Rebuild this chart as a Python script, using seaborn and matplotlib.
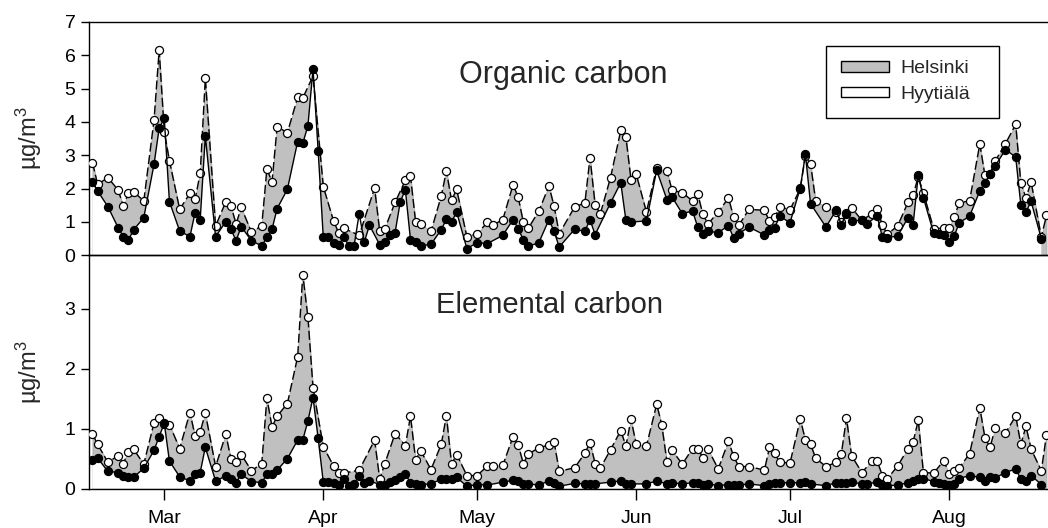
import matplotlib
matplotlib.use("Agg")
import matplotlib.pyplot as plt
import matplotlib.dates as mdates
from matplotlib.patches import Patch
import pandas as pd
import seaborn as sns

START = pd.Timestamp("2006-02-15")

# Organic carbon, Helsinki (day offset from START, µg/m3)
oc_hel_day = [0, 1, 3, 5, 6, 7, 8, 10, 12, 13, 14, 15, 17, 19, 20, 21, 22, 24, 26, 27,
              28, 29, 31, 33, 34, 35, 36, 38, 40, 41, 43, 45, 47, 48, 49, 52, 55, 56, 57, 59,
              61, 62, 63, 64, 66, 68, 69, 70, 71, 73, 75, 77, 78, 80, 82, 83, 84, 85, 87, 89,
              90, 91, 94, 96, 97, 98, 99, 101, 103, 104, 105, 106, 108, 110, 112, 113, 115, 117, 118, 119,
              120, 122, 124, 125, 126, 128, 131, 132, 133, 134, 136, 138, 139, 140, 141, 143, 145, 146, 147, 148,
              150, 152, 153, 154, 155, 157, 159, 160, 161, 162, 164, 166, 167, 168, 169, 171, 173, 174, 175, 176,
              178, 180, 181, 182, 183, 185, 186]
oc_hel_val = [2.78, 2.13, 2.33, 1.96, 1.48, 1.86, 1.91, 1.63, 4.06, 6.16, 3.71, 2.84, 1.38, 1.86, 1.68, 2.46, 5.31, 0.88, 1.61, 1.48,
              0.94, 1.44, 0.69, 0.89, 2.59, 2.20, 3.86, 3.68, 4.74, 4.72, 5.38, 2.06, 1.03, 0.67, 0.81, 0.60, 2.02, 0.72, 0.80, 1.59,
              2.25, 2.37, 1.00, 0.94, 0.72, 1.78, 2.53, 1.65, 1.98, 0.55, 0.65, 0.99, 0.90, 1.07, 2.12, 1.74, 1.00, 0.82, 1.32, 2.08,
              1.47, 0.65, 1.45, 1.57, 2.93, 1.52, 1.24, 2.33, 3.75, 3.55, 2.26, 2.44, 1.30, 2.62, 2.53, 1.95, 1.88, 1.63, 1.85, 1.23,
              0.94, 1.30, 1.72, 1.15, 0.90, 1.38, 1.35, 1.02, 1.15, 1.45, 1.37, 2.00, 2.98, 2.75, 1.63, 1.45, 1.30, 1.00, 1.27, 1.43,
              1.05, 1.25, 1.40, 0.90, 0.63, 0.89, 1.59, 1.82, 2.35, 1.87, 0.80, 0.82, 0.83, 1.15, 1.58, 1.63, 3.34, 2.40, 2.45, 2.83,
              3.35, 3.93, 2.17, 1.72, 2.20, 0.55, 1.20]

# Hyytiälä sampling days (shared by both carbon fractions)
hyy_day = [0, 1, 3, 5, 6, 7, 8, 10, 12, 13, 14, 15, 17, 19, 20, 21, 22, 24, 26, 27,
           28, 29, 31, 33, 34, 35, 36, 38, 40, 41, 42, 43, 44, 45, 46, 47, 48, 49, 50, 51,
           52, 53, 54, 56, 57, 58, 59, 60, 61, 62, 63, 64, 66, 68, 69, 70, 71, 73, 75, 77,
           80, 82, 83, 84, 85, 87, 89, 90, 91, 94, 96, 97, 98, 101, 103, 104, 105, 108, 110, 112,
           113, 115, 117, 118, 119, 120, 122, 124, 125, 126, 128, 131, 132, 133, 134, 136, 138, 139, 140, 143,
           145, 146, 147, 148, 150, 151, 153, 154, 155, 157, 159, 160, 161, 162, 164, 165, 166, 167, 168, 169,
           171, 173, 174, 175, 176, 178, 180, 181, 182, 183, 185]
oc_hyy_val = [2.20, 1.93, 1.46, 0.83, 0.56, 0.46, 0.76, 1.13, 2.73, 3.81, 4.11, 1.61, 0.73, 0.56, 1.28, 1.06, 3.58, 0.56, 1.01, 0.78,
              0.44, 0.86, 0.44, 0.28, 0.54, 0.78, 1.40, 1.98, 3.41, 3.36, 3.88, 5.59, 3.14, 0.54, 0.54, 0.38, 0.30, 0.55, 0.28, 0.28,
              1.25, 0.40, 0.90, 0.32, 0.40, 0.60, 0.68, 1.60, 1.97, 0.47, 0.40, 0.28, 0.33, 0.77, 1.08, 1.00, 1.30, 0.20, 0.38, 0.35,
              0.60, 1.07, 0.80, 0.47, 0.28, 0.37, 1.07, 0.72, 0.25, 0.78, 0.72, 1.07, 0.62, 1.57, 2.18, 1.05, 1.00, 1.03, 2.55, 1.67,
              1.75, 1.25, 1.33, 0.85, 0.65, 0.72, 0.68, 0.89, 0.52, 0.65, 0.85, 0.61, 0.75, 0.83, 1.17, 0.98, 2.02, 3.03, 1.55, 0.85,
              1.35, 0.92, 1.25, 1.03, 1.05, 0.95, 1.18, 0.55, 0.53, 0.58, 1.13, 0.92, 2.40, 1.73, 0.67, 0.65, 0.62, 0.40, 0.57, 0.98,
              1.17, 1.93, 2.17, 2.43, 2.68, 3.17, 2.95, 1.52, 1.30, 1.62, 0.50]

# Elemental carbon, Helsinki
ec_hel_day = [0, 1, 3, 5, 6, 7, 8, 10, 12, 13, 14, 15, 17, 19, 20, 21, 22, 24, 26, 27,
              28, 29, 31, 33, 34, 35, 36, 38, 40, 41, 42, 43, 45, 47, 48, 49, 52, 55, 56, 57,
              59, 61, 62, 63, 64, 66, 68, 69, 70, 71, 73, 75, 77, 78, 80, 82, 83, 84, 85, 87,
              89, 90, 91, 94, 96, 97, 98, 99, 101, 103, 104, 105, 106, 108, 110, 111, 112, 113, 115, 117,
              118, 119, 120, 122, 124, 125, 126, 128, 131, 132, 133, 134, 136, 138, 139, 140, 141, 143, 145, 146,
              147, 148, 150, 152, 153, 154, 155, 157, 159, 160, 161, 162, 164, 166, 167, 168, 169, 171, 173, 174,
              175, 176, 178, 180, 181, 182, 183, 185, 186]
ec_hel_val = [0.91, 0.74, 0.44, 0.55, 0.42, 0.61, 0.66, 0.41, 1.10, 1.18, 1.08, 1.07, 0.67, 1.27, 0.88, 0.95, 1.26, 0.37, 0.91, 0.49,
              0.44, 0.57, 0.30, 0.42, 1.51, 1.03, 1.21, 1.42, 2.20, 3.57, 2.86, 1.68, 0.70, 0.38, 0.27, 0.26, 0.31, 0.81, 0.16, 0.42,
              0.92, 0.72, 1.21, 0.48, 0.63, 0.32, 0.74, 1.22, 0.41, 0.57, 0.22, 0.22, 0.38, 0.38, 0.39, 0.87, 0.73, 0.42, 0.58, 0.68,
              0.73, 0.78, 0.29, 0.35, 0.59, 0.77, 0.42, 0.34, 0.65, 0.97, 0.71, 1.16, 0.74, 0.71, 1.41, 1.06, 0.45, 0.64, 0.41, 0.67,
              0.67, 0.52, 0.66, 0.33, 0.79, 0.54, 0.37, 0.37, 0.31, 0.69, 0.59, 0.44, 0.43, 1.16, 0.81, 0.74, 0.51, 0.37, 0.44, 0.58,
              1.18, 0.55, 0.27, 0.46, 0.46, 0.22, 0.17, 0.38, 0.67, 0.78, 1.14, 0.27, 0.26, 0.47, 0.24, 0.30, 0.35, 0.58, 1.35, 0.85,
              0.69, 1.01, 0.93, 1.21, 0.74, 1.04, 0.66, 0.30, 0.90]

# Elemental carbon, Hyytiälä
ec_hyy_val = [0.48, 0.51, 0.29, 0.27, 0.21, 0.19, 0.19, 0.34, 0.64, 0.87, 1.09, 0.46, 0.20, 0.13, 0.24, 0.27, 0.69, 0.13, 0.21, 0.17,
              0.10, 0.24, 0.12, 0.10, 0.24, 0.24, 0.31, 0.50, 0.81, 0.81, 1.13, 1.52, 0.84, 0.11, 0.11, 0.09, 0.07, 0.16, 0.04, 0.08,
              0.22, 0.10, 0.13, 0.07, 0.07, 0.12, 0.14, 0.20, 0.24, 0.10, 0.08, 0.07, 0.08, 0.16, 0.16, 0.17, 0.19, 0.04, 0.07, 0.06,
              0.11, 0.14, 0.13, 0.08, 0.08, 0.06, 0.13, 0.10, 0.04, 0.09, 0.08, 0.08, 0.08, 0.11, 0.13, 0.08, 0.08, 0.08, 0.13, 0.08,
              0.10, 0.08, 0.10, 0.09, 0.07, 0.08, 0.05, 0.07, 0.06, 0.06, 0.08, 0.05, 0.08, 0.09, 0.10, 0.10, 0.10, 0.11, 0.08, 0.05,
              0.10, 0.10, 0.09, 0.11, 0.08, 0.08, 0.11, 0.06, 0.05, 0.06, 0.10, 0.13, 0.16, 0.17, 0.12, 0.09, 0.08, 0.06, 0.08, 0.17,
              0.22, 0.19, 0.13, 0.20, 0.18, 0.27, 0.33, 0.16, 0.13, 0.22, 0.07]

PANEL_TITLES = ["Organic carbon", "Elemental carbon"]
SITE_LABELS = ["Helsinki", "Hyytiälä"]
UNIT = r"µg/m$^3$"

sns.set_theme(style="ticks")
plt.rcParams["font.family"] = ["Liberation Sans", "DejaVu Sans"]
plt.rcParams["mathtext.fontset"] = "custom"
plt.rcParams["mathtext.rm"] = "Liberation Sans"
plt.rcParams["mathtext.it"] = "Liberation Sans"
plt.rcParams["axes.linewidth"] = 1.0

W, H = 1048, 528
fig = plt.figure(figsize=(W / 100, H / 100), dpi=100)
left = 89.3 / W
width = 1.0 - left
ax_oc = fig.add_axes([left, 1 - 255.3 / H, width, (255.3 - 22) / H])
ax_ec = fig.add_axes([left, 1 - 488.7 / H, width, (488.7 - 255.3) / H])


def to_dates(days):
    return START + pd.to_timedelta(days, unit="D")


def draw_panel(ax, hel_day, hel_val, hyy_d, hyy_val):
    hx = to_dates(hel_day)
    yx = to_dates(hyy_d)
    ax.fill_between(hx, 0, hel_val, facecolor="#c0c0c0", edgecolor="#a8a8a8",
                    linewidth=0.6, zorder=1)
    ax.fill_between(yx, 0, hyy_val, facecolor="white", edgecolor="none",
                    linewidth=0, zorder=2)
    sns.lineplot(x=hx, y=hel_val, ax=ax, color="black", linewidth=1.0,
                 linestyle=(0, (6.5, 2.5)), marker="o", markersize=5.8,
                 markerfacecolor="white", markeredgecolor="black",
                 markeredgewidth=0.9, errorbar=None, zorder=3)
    sns.lineplot(x=yx, y=hyy_val, ax=ax, color="black", linewidth=1.0,
                 marker="o", markersize=5.8, markerfacecolor="black",
                 markeredgecolor="black", markeredgewidth=0.9,
                 errorbar=None, zorder=4)


draw_panel(ax_oc, oc_hel_day, oc_hel_val, hyy_day, oc_hyy_val)
draw_panel(ax_ec, ec_hel_day, ec_hel_val, hyy_day, ec_hyy_val)

x0 = START + pd.Timedelta(days=-0.62)
x1 = START + pd.Timedelta(days=186.3)
for ax in (ax_oc, ax_ec):
    ax.set_xlim(x0, x1)
    ax.set_xlabel("")
    ax.set_ylabel(UNIT, fontsize=17)
    ax.yaxis.set_label_coords(-0.047, 0.5)
    ax.spines["right"].set_visible(False)
    for s in ax.spines.values():
        s.set_color("black")
        s.set_linewidth(1.0)
    ax.tick_params(axis="y", direction="out", length=6, width=1.0,
                   labelsize=14, pad=4, colors="black")
    ax.xaxis.set_major_locator(mdates.MonthLocator())
    ax.xaxis.set_major_formatter(mdates.DateFormatter("%b"))

ax_oc.set_ylim(0, 7)
ax_oc.set_yticks(range(0, 8))
ax_oc.tick_params(axis="x", bottom=False, labelbottom=False)

ax_ec.set_ylim(0, (488.7 - 255.3) / 60.0)
ax_ec.set_yticks(range(0, 4))
ax_ec.patch.set_visible(False)
ax_ec.tick_params(axis="x", direction="out", length=8, width=1.0,
                  labelsize=14, pad=7, colors="black")

ax_oc.text(0.494, 0.773, PANEL_TITLES[0], transform=ax_oc.transAxes,
           ha="center", va="center", fontsize=22)
ax_ec.text(0.480, 0.787, PANEL_TITLES[1], transform=ax_ec.transAxes,
           ha="center", va="center", fontsize=21)

handles = [Patch(facecolor="#c0c0c0", edgecolor="black", linewidth=1.0, label=SITE_LABELS[0]),
           Patch(facecolor="white", edgecolor="black", linewidth=1.0, label=SITE_LABELS[1])]
leg = fig.legend(handles=handles, loc="upper left",
                 bbox_to_anchor=(826 / W, 1 - 123.3 / H, 173 / W, 77.6 / H),
                 mode="expand", frameon=True, fancybox=False, shadow=False,
                 fontsize=14, handlelength=2.5, handleheight=0.46,
                 handletextpad=0.55, labelspacing=0.45, borderpad=0.75,
                 borderaxespad=0.0)
leg.get_frame().set_edgecolor("black")
leg.get_frame().set_linewidth(1.0)
leg.get_frame().set_alpha(1.0)

fig.savefig("out.png", dpi=100)
